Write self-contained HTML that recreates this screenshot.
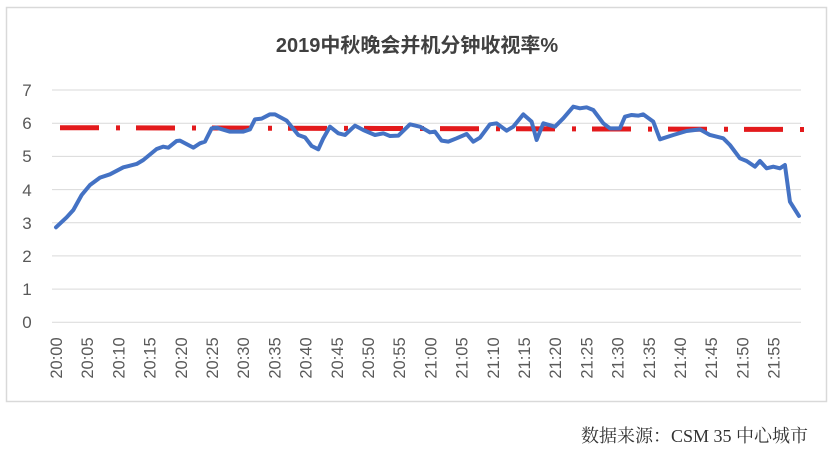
<!DOCTYPE html>
<html><head><meta charset="utf-8"><style>
body{margin:0;background:#fff;width:834px;height:452px;overflow:hidden}
</style></head><body>
<svg width="834" height="452" xmlns="http://www.w3.org/2000/svg">
<rect x="6.5" y="7.5" width="820" height="394" fill="#fff" stroke="#d9d9d9" stroke-width="1.5"/>
<text x="417" y="52" text-anchor="middle" font-family="Liberation Sans, Noto Sans CJK SC, sans-serif" font-size="20" font-weight="bold" fill="#404040">2019中秋晚会并机分钟收视率%</text>
<g stroke="#d9d9d9" stroke-width="1">
<line x1="52" x2="801" y1="90" y2="90"/><line x1="52" x2="801" y1="123.2" y2="123.2"/>
<line x1="52" x2="801" y1="156.4" y2="156.4"/><line x1="52" x2="801" y1="189.6" y2="189.6"/>
<line x1="52" x2="801" y1="222.7" y2="222.7"/><line x1="52" x2="801" y1="255.9" y2="255.9"/>
<line x1="52" x2="801" y1="289.1" y2="289.1"/><line x1="52" x2="801" y1="322.3" y2="322.3"/>
</g>
<g font-family="Liberation Sans, sans-serif" font-size="17" fill="#595959" text-anchor="middle">
<text x="27" y="96">7</text><text x="27" y="129">6</text><text x="27" y="162">5</text><text x="27" y="196">4</text>
<text x="27" y="229">3</text><text x="27" y="262">2</text><text x="27" y="295">1</text><text x="27" y="328">0</text>
</g>
<line x1="60" y1="127.7" x2="820" y2="129.5" stroke="#e31a1c" stroke-width="5" stroke-dasharray="39 17 4 16"/>
<g transform="translate(40,80) scale(0.3333)">
<polyline fill="none" stroke="#4472c4" stroke-width="12" stroke-linejoin="round" stroke-linecap="round" points="48,442 80,412 100,390 125,345 150,315 180,293 210,283 250,262 290,252 310,240 350,207 370,200 385,203 410,183 420,182 460,203 480,190 495,185 515,145 530,143 570,155 610,155 630,148 645,118 665,116 690,103 705,103 740,122 775,165 795,172 815,198 835,208 850,175 870,140 895,160 915,165 945,137 970,150 1005,165 1030,160 1050,168 1075,167 1110,133 1140,140 1170,157 1185,155 1205,182 1225,185 1250,175 1280,162 1300,185 1320,173 1350,133 1370,130 1400,152 1420,140 1450,103 1475,125 1490,180 1510,130 1545,140 1570,115 1600,80 1620,85 1640,82 1660,90 1690,130 1710,145 1740,145 1755,110 1775,105 1795,107 1810,103 1840,125 1860,178 1900,165 1940,153 1980,148 2010,165 2050,175 2070,195 2100,235 2120,243 2145,260 2160,243 2180,265 2200,260 2220,265 2235,255 2250,365 2277,408"/>
</g>
<g font-family="Liberation Sans, sans-serif" font-size="16.5" fill="#595959" text-anchor="middle">
<text transform="translate(62,358) rotate(-90)">20:00</text>
<text transform="translate(93.2,358) rotate(-90)">20:05</text>
<text transform="translate(124.4,358) rotate(-90)">20:10</text>
<text transform="translate(155.6,358) rotate(-90)">20:15</text>
<text transform="translate(186.8,358) rotate(-90)">20:20</text>
<text transform="translate(218,358) rotate(-90)">20:25</text>
<text transform="translate(249.2,358) rotate(-90)">20:30</text>
<text transform="translate(280.4,358) rotate(-90)">20:35</text>
<text transform="translate(311.6,358) rotate(-90)">20:40</text>
<text transform="translate(342.8,358) rotate(-90)">20:45</text>
<text transform="translate(374,358) rotate(-90)">20:50</text>
<text transform="translate(405.2,358) rotate(-90)">20:55</text>
<text transform="translate(436.4,358) rotate(-90)">21:00</text>
<text transform="translate(467.6,358) rotate(-90)">21:05</text>
<text transform="translate(498.8,358) rotate(-90)">21:10</text>
<text transform="translate(530,358) rotate(-90)">21:15</text>
<text transform="translate(561.2,358) rotate(-90)">21:20</text>
<text transform="translate(592.4,358) rotate(-90)">21:25</text>
<text transform="translate(623.6,358) rotate(-90)">21:30</text>
<text transform="translate(654.8,358) rotate(-90)">21:35</text>
<text transform="translate(686,358) rotate(-90)">21:40</text>
<text transform="translate(717.2,358) rotate(-90)">21:45</text>
<text transform="translate(748.4,358) rotate(-90)">21:50</text>
<text transform="translate(779.6,358) rotate(-90)">21:55</text>
</g>
<text x="808" y="442" text-anchor="end" font-family="Liberation Serif, Noto Serif CJK SC, serif" font-size="18" fill="#333">数据来源：CSM 35 中心城市</text>
</svg>
</body></html>
